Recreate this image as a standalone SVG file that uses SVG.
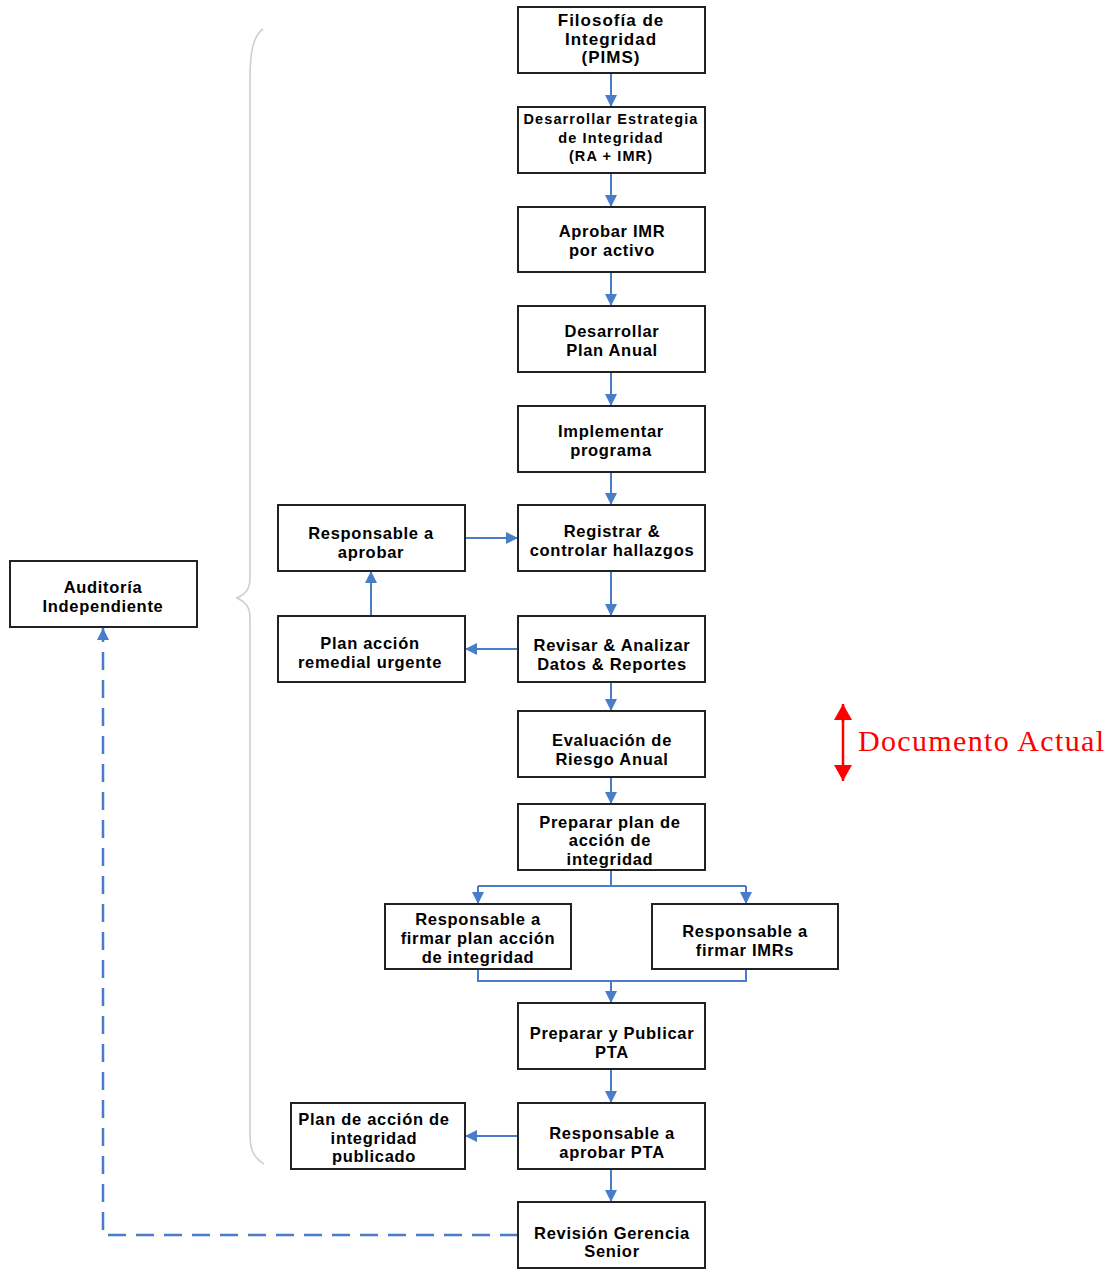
<svg xmlns="http://www.w3.org/2000/svg" width="1118" height="1269" viewBox="0 0 1118 1269">
<defs>
<marker id="ah" markerUnits="userSpaceOnUse" markerWidth="14" markerHeight="14" viewBox="0 0 14 14" refX="12" refY="7" orient="auto">
<path d="M0,1 L12,7 L0,13 Z" fill="#4a7dc9"/>
</marker>
<marker id="rh" markerUnits="userSpaceOnUse" markerWidth="18" markerHeight="18" viewBox="0 0 18 18" refX="16" refY="9" orient="auto">
<path d="M0,0 L16,9 L0,18 Z" fill="#ff0000"/>
</marker>
<style>
.box{fill:#fff;stroke:#222;stroke-width:2}
.t{font-family:"Liberation Sans",Arial,sans-serif;font-weight:bold;font-size:16.5px;letter-spacing:0.7px;fill:#000;text-anchor:middle}
.c{fill:none;stroke:#4a7dc9;stroke-width:2}
.ca{fill:none;stroke:#4a7dc9;stroke-width:2;marker-end:url(#ah)}
</style>
</defs>
<rect width="1118" height="1269" fill="#fff"/>
<path id="brace" d="M263,29 C253,36 250,52 250,80 L250,578 C250,590 245,594 237,598 C245,602 250,606 250,618 L250,1135 C250,1150 254,1158 264,1164" fill="none" stroke="#cfcfcf" stroke-width="1.6"/>
<g id="connectors">
<line class="ca" x1="611" y1="73" x2="611" y2="107"/>
<line class="ca" x1="611" y1="173" x2="611" y2="207"/>
<line class="ca" x1="611" y1="272" x2="611" y2="306"/>
<line class="ca" x1="611" y1="372" x2="611" y2="406"/>
<line class="ca" x1="611" y1="472" x2="611" y2="505"/>
<line class="ca" x1="611" y1="571" x2="611" y2="616"/>
<line class="ca" x1="611" y1="682" x2="611" y2="711"/>
<line class="ca" x1="611" y1="777" x2="611" y2="804"/>
<line class="ca" x1="465" y1="538" x2="518" y2="538"/>
<line class="ca" x1="518" y1="649" x2="465" y2="649"/>
<line class="ca" x1="371" y1="616" x2="371" y2="571"/>
<path class="c" d="M611,870 L611,886 M478,886 L746,886"/>
<line class="ca" x1="478" y1="886" x2="478" y2="904"/>
<line class="ca" x1="746" y1="886" x2="746" y2="904"/>
<path class="c" d="M478,969 L478,981 L746,981 L746,969"/>
<line class="ca" x1="611" y1="981" x2="611" y2="1003"/>
<line class="ca" x1="611" y1="1069" x2="611" y2="1103"/>
<line class="ca" x1="518" y1="1136" x2="465" y2="1136"/>
<line class="ca" x1="611" y1="1169" x2="611" y2="1202"/>
<path d="M518,1235 L103,1235 L103,628" fill="none" stroke="#4a7dc9" stroke-width="2.5" stroke-dasharray="18,10" marker-end="url(#ah)"/>
</g>
<g id="n1"><rect class="box" x="518" y="7" width="187" height="66"/><text class="t" style="font-size:17px;letter-spacing:1px"><tspan x="611" y="26">Filosofía de</tspan><tspan x="611" y="45">Integridad</tspan><tspan x="611" y="63">(PIMS)</tspan></text></g>
<g id="n2"><rect class="box" x="518" y="107" width="187" height="66"/><text class="t" style="font-size:14.5px;letter-spacing:1.1px"><tspan x="611" y="124">Desarrollar Estrategia</tspan><tspan x="611" y="143">de Integridad</tspan><tspan x="611" y="161">(RA + IMR)</tspan></text></g>
<g id="n3"><rect class="box" x="518" y="207" width="187" height="65"/><text class="t"><tspan x="612" y="237">Aprobar IMR</tspan><tspan x="612" y="256">por activo</tspan></text></g>
<g id="n4"><rect class="box" x="518" y="306" width="187" height="66"/><text class="t"><tspan x="612" y="337">Desarrollar</tspan><tspan x="612" y="356">Plan Anual</tspan></text></g>
<g id="n5"><rect class="box" x="518" y="406" width="187" height="66"/><text class="t"><tspan x="611" y="437">Implementar</tspan><tspan x="611" y="456">programa</tspan></text></g>
<g id="n6"><rect class="box" x="518" y="505" width="187" height="66"/><text class="t"><tspan x="612" y="537">Registrar &amp;</tspan><tspan x="612" y="556">controlar hallazgos</tspan></text></g>
<g id="n7"><rect class="box" x="518" y="616" width="187" height="66"/><text class="t"><tspan x="612" y="651">Revisar &amp; Analizar</tspan><tspan x="612" y="670">Datos &amp; Reportes</tspan></text></g>
<g id="n8"><rect class="box" x="518" y="711" width="187" height="66"/><text class="t"><tspan x="612" y="746">Evaluación de</tspan><tspan x="612" y="765">Riesgo Anual</tspan></text></g>
<g id="n9"><rect class="box" x="518" y="804" width="187" height="66"/><text class="t"><tspan x="610" y="828">Preparar plan de</tspan><tspan x="610" y="846">acción de</tspan><tspan x="610" y="865">integridad</tspan></text></g>
<g id="n10"><rect class="box" x="385" y="904" width="186" height="65"/><text class="t"><tspan x="478" y="925">Responsable a</tspan><tspan x="478" y="944">firmar plan acción</tspan><tspan x="478" y="963">de integridad</tspan></text></g>
<g id="n11"><rect class="box" x="652" y="904" width="186" height="65"/><text class="t"><tspan x="745" y="937">Responsable a</tspan><tspan x="745" y="956">firmar IMRs</tspan></text></g>
<g id="n12"><rect class="box" x="518" y="1003" width="187" height="66"/><text class="t"><tspan x="612" y="1039">Preparar y Publicar</tspan><tspan x="612" y="1058">PTA</tspan></text></g>
<g id="n13"><rect class="box" x="518" y="1103" width="187" height="66"/><text class="t"><tspan x="612" y="1139">Responsable a</tspan><tspan x="612" y="1158">aprobar PTA</tspan></text></g>
<g id="n14"><rect class="box" x="518" y="1202" width="187" height="66"/><text class="t"><tspan x="612" y="1239">Revisión Gerencia</tspan><tspan x="612" y="1257">Senior</tspan></text></g>
<g id="l1"><rect class="box" x="278" y="505" width="187" height="66"/><text class="t"><tspan x="371" y="539">Responsable a</tspan><tspan x="371" y="558">aprobar</tspan></text></g>
<g id="l2"><rect class="box" x="278" y="616" width="187" height="66"/><text class="t"><tspan x="370" y="649">Plan acción</tspan><tspan x="370" y="668">remedial urgente</tspan></text></g>
<g id="l3"><rect class="box" x="291" y="1103" width="174" height="66"/><text class="t"><tspan x="374" y="1125">Plan de acción de</tspan><tspan x="374" y="1144">integridad</tspan><tspan x="374" y="1162">publicado</tspan></text></g>
<g id="aud"><rect class="box" x="10" y="561" width="187" height="66"/><text class="t"><tspan x="103" y="593">Auditoría</tspan><tspan x="103" y="612">Independiente</tspan></text></g>
<g id="doc">
<line x1="843" y1="722" x2="843" y2="704" stroke="#ff0000" stroke-width="2.5" marker-end="url(#rh)"/>
<line x1="843" y1="720" x2="843" y2="781" stroke="#ff0000" stroke-width="2.5" marker-end="url(#rh)"/>
<text x="858" y="751" font-family="'Liberation Serif','Times New Roman',serif" font-size="30" fill="#ff0000" textLength="246" lengthAdjust="spacing">Documento Actual</text>
</g>
</svg>
